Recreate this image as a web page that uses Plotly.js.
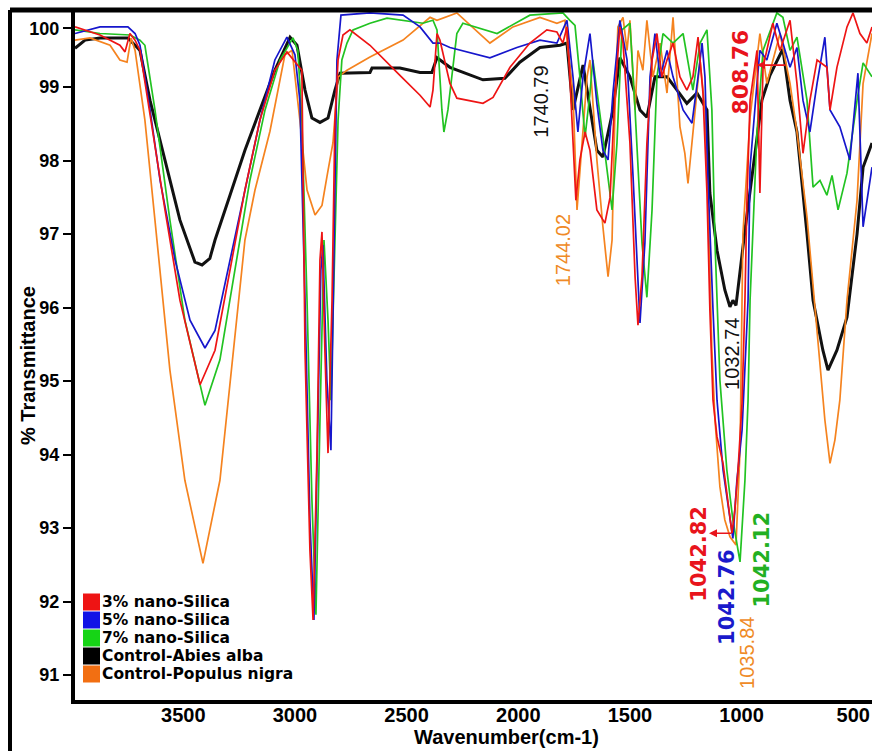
<!DOCTYPE html>
<html>
<head>
<meta charset="utf-8">
<script src="https://cdn.plot.ly/plotly-3.0.1.min.js"></script>
<style>
html,body{margin:0;padding:0;background:#fff;}
#chart{width:872px;height:751px;}
</style>
</head>
<body>
<div id="chart"></div>
<script>
// ---------------- DATA ----------------
const seriesNames = ["3% nano-Silica", "5% nano-Silica", "7% nano-Silica", "Control-Abies alba", "Control-Populus nigra"];

const abiesWn = [3985,3940,3873,3748,3716,3694,3649,3582,3515,3448,3416,3381,3358,3291,3224,3157,3090,3022,2991,2955,2924,2888,2852,2821,2798,2664,2655,2530,2440,2387,2364,2306,2216,2158,2060,1993,1903,1813,1782,1755,1710,1679,1648,1621,1576,1545,1500,1455,1424,1388,1334,1289,1245,1200,1155,1142,1110,1075,1052,1039,1025,985,940,909,873,815,783,752,707,680,636,613,573,528,483,456,416];
const abiesT  = [99.53,99.64,99.67,99.67,99.57,99.50,98.82,98.01,97.19,96.62,96.58,96.67,96.92,97.53,98.14,98.69,99.23,99.68,99.57,98.96,98.58,98.52,98.58,98.96,99.19,99.20,99.26,99.26,99.20,99.20,99.40,99.27,99.16,99.10,99.12,99.34,99.54,99.57,99.60,98.69,99.30,98.69,98.14,98.05,98.69,99.40,99.14,98.69,98.59,99.14,99.14,98.96,98.78,98.92,98.69,97.56,96.78,96.24,96.01,96.10,96.03,97.05,98.14,98.82,99.16,99.52,98.82,98.39,97.00,96.10,95.42,95.15,95.42,95.87,97.00,97.91,98.24];

const si5Wn = [3985,3918,3873,3748,3716,3694,3649,3604,3537,3470,3403,3358,3291,3224,3157,3090,3036,3000,2978,2955,2933,2915,2897,2884,2875,2857,2839,2825,2812,2794,2664,2516,2440,2382,2351,2306,2127,2006,1903,1827,1782,1755,1733,1710,1679,1648,1621,1598,1576,1545,1513,1486,1455,1433,1410,1388,1365,1334,1307,1262,1222,1195,1177,1164,1151,1128,1110,1083,1052,1039,1021,998,971,962,931,918,887,842,815,783,752,725,694,662,627,604,560,515,479,456,416];
const si5T  = [99.73,99.78,99.82,99.82,99.73,99.57,98.69,97.73,96.65,95.83,95.45,95.69,96.65,97.60,98.55,99.37,99.68,99.44,98.82,96.10,93.11,91.75,94.33,96.51,96.85,95.01,94.06,96.78,99.37,99.98,100.01,99.98,99.82,99.60,99.60,99.54,99.40,99.54,99.64,99.60,99.91,99.14,98.39,99.14,99.73,98.78,98.14,98.01,98.92,99.91,99.37,97.78,95.79,96.88,99.14,99.73,99.14,99.50,99.14,98.69,98.51,99.14,99.60,99.14,97.78,95.97,94.74,93.79,93.11,92.86,93.65,94.33,96.10,97.91,99.05,99.50,99.37,99.87,99.60,99.27,99.54,98.82,98.39,99.05,99.68,98.69,98.46,98.01,99.19,97.10,97.91];

const si3Wn = [3985,3873,3784,3761,3739,3716,3694,3649,3582,3515,3425,3358,3291,3224,3157,3090,3036,3000,2969,2955,2933,2919,2901,2888,2879,2866,2852,2834,2821,2807,2785,2754,2664,2530,2440,2395,2382,2364,2351,2306,2275,2158,2113,2037,1948,1872,1827,1800,1782,1769,1755,1742,1724,1701,1679,1648,1612,1589,1567,1545,1531,1500,1477,1464,1446,1424,1401,1379,1357,1334,1307,1276,1245,1218,1195,1173,1155,1142,1128,1110,1083,1061,1043,1030,1016,998,985,976,962,931,918,904,860,828,783,752,725,694,662,618,604,573,528,501,470,439,416];
const si3T  = [99.82,99.71,99.57,99.48,99.73,99.64,99.50,98.62,97.33,96.10,94.95,95.42,96.51,97.60,98.55,99.23,99.48,99.34,99.23,95.42,92.70,91.75,94.06,96.65,97.03,95.42,94.02,96.10,98.55,99.37,99.71,99.78,99.57,99.16,98.89,98.73,98.96,99.73,99.64,99.05,98.85,98.78,98.86,99.27,99.60,99.78,99.75,99.60,99.82,99.14,98.24,97.46,98.01,98.39,98.14,97.33,97.15,97.50,98.92,99.82,99.60,98.24,96.42,95.76,96.42,98.24,99.37,99.73,99.14,99.37,99.60,99.14,98.96,99.14,99.68,98.92,97.56,95.97,94.74,94.24,93.88,93.38,92.93,93.25,93.79,94.70,96.10,97.46,98.82,99.50,97.56,99.27,99.87,99.50,99.91,99.05,98.10,98.82,99.37,99.27,98.69,99.27,99.82,100.01,99.73,99.60,99.82];

const si7Wn = [3985,3873,3739,3694,3672,3627,3560,3493,3403,3336,3269,3202,3134,3067,3009,2987,2969,2946,2924,2906,2888,2870,2852,2839,2830,2816,2807,2790,2767,2740,2664,2588,2516,2427,2382,2364,2342,2333,2315,2275,2248,2095,1948,1800,1769,1746,1724,1701,1679,1666,1621,1580,1558,1536,1500,1477,1446,1424,1401,1379,1352,1307,1262,1218,1186,1155,1133,1119,1097,1066,1039,1007,985,971,962,931,904,842,815,783,752,707,680,649,618,595,568,528,483,456,416];
const si7T  = [99.78,99.73,99.71,99.64,99.57,98.69,97.19,95.83,94.67,95.29,96.51,97.73,98.69,99.37,99.67,99.50,98.55,96.10,93.38,91.82,94.47,96.92,95.83,94.74,95.83,97.46,98.55,99.37,99.60,99.78,99.87,99.94,99.91,99.87,99.91,99.78,98.69,98.39,98.69,99.73,99.87,99.73,99.98,100.01,99.91,99.84,99.14,98.32,98.92,99.37,98.32,97.33,98.24,99.78,99.87,98.69,96.88,96.14,97.33,99.14,99.73,99.60,99.73,98.96,99.60,99.78,98.69,96.88,95.01,93.79,93.11,92.54,93.65,94.74,96.10,98.39,99.50,100.01,99.95,99.50,99.68,98.82,97.64,97.73,97.53,97.80,97.33,97.83,98.82,99.33,99.14];

const populusWn = [3985,3918,3828,3784,3752,3734,3716,3672,3627,3560,3493,3412,3336,3269,3224,3179,3112,3045,3013,2978,2946,2910,2879,2857,2830,2807,2767,2664,2516,2395,2364,2275,2127,2024,1903,1827,1791,1769,1755,1737,1724,1692,1679,1648,1621,1598,1580,1567,1554,1531,1513,1500,1477,1464,1442,1424,1397,1365,1334,1307,1276,1254,1240,1222,1186,1164,1151,1133,1119,1097,1075,1052,1025,1007,994,962,918,887,828,783,752,707,680,649,627,604,582,560,528,483,456,416];
const populusT  = [99.64,99.67,99.57,99.37,99.34,99.67,99.50,98.55,97.19,95.15,93.65,92.52,93.65,95.56,96.92,97.60,98.40,99.44,99.50,98.55,97.60,97.26,97.39,97.78,98.24,99.14,99.23,99.41,99.64,99.95,99.91,100.01,99.60,99.82,99.95,99.87,99.91,99.27,98.92,97.33,97.87,99.14,99.37,98.01,97.10,96.42,96.92,98.69,99.82,99.95,99.50,99.91,98.69,99.50,99.23,99.91,99.14,99.60,98.92,99.95,98.46,98.10,97.69,98.28,99.37,98.69,97.56,95.42,94.47,93.56,93.11,92.88,92.77,94.06,97.00,98.59,99.73,99.05,99.73,99.05,98.39,97.23,96.33,95.19,94.47,93.88,94.20,94.74,96.10,97.46,99.05,99.73];

const xTickVals = [3500, 3000, 2500, 2000, 1500, 1000, 500];
const yTickVals = [91, 92, 93, 94, 95, 96, 97, 98, 99, 99.8];
const yTickText = ["91", "92", "93", "94", "95", "96", "97", "98", "99", "100"];

// peak labels: text and the wavenumber / %T where each label sits
const peakText = ["1740.79", "1744.02", "1032.74", "1035.84", "1042.82", "1042.76", "1042.12", "808.76"];
const peakWn   = [1899, 1800, 1043, 976, 1191, 1066, 909, 1007];
const peakT    = [98.80, 96.78, 95.37, 91.30, 92.65, 92.06, 92.57, 99.20];

// ---------------- STYLE ----------------
const C = {red:"#ee1414", blue:"#1616cc", green:"#22c322", black:"#111111", orange:"#f5831f"};
const LC = {red:"#e8141c", blue:"#1a1acb", green:"#22b022", black:"#111111", orange:"#ef8a26"};
const peakStyle = [
  {c:LC.black, fam:"Liberation Sans, Arial", w:400, s:20},
  {c:LC.orange, fam:"Liberation Sans, Arial", w:400, s:20},
  {c:LC.black, fam:"Liberation Sans, Arial", w:400, s:20},
  {c:LC.orange, fam:"Liberation Sans, Arial", w:400, s:20},
  {c:LC.red, fam:"DejaVu Sans", w:700, s:21},
  {c:LC.blue, fam:"DejaVu Sans", w:700, s:21},
  {c:LC.green, fam:"DejaVu Sans", w:700, s:21},
  {c:LC.red, fam:"DejaVu Sans", w:700, s:22}
];

const W = 872, H = 751, ML = 75, MR = 0, MT = 10, MB = 51;
const PW = W - ML - MR, PH = H - MT - MB;
const px2paperX = p => (p - ML) / PW;
const px2paperY = p => (H - MB - p) / PH;

const traces = [
  {x: abiesWn, y: abiesT, name: seriesNames[3], line:{color:C.black, width:3}},
  {x: populusWn, y: populusT, name: seriesNames[4], line:{color:C.orange, width:1.7}},
  {x: si7Wn, y: si7T, name: seriesNames[2], line:{color:C.green, width:1.7}},
  {x: si5Wn, y: si5T, name: seriesNames[1], line:{color:C.blue, width:1.7}},
  {x: si3Wn, y: si3T, name: seriesNames[0], line:{color:C.red, width:1.7}}
].map(t => Object.assign(t, {type:"scatter", mode:"lines", showlegend:false, hoverinfo:"x+y+name"}));

const annotations = [];
peakText.forEach((t, i) => {
  const st = peakStyle[i];
  annotations.push({x: peakWn[i], y: peakT[i], xref:"x", yref:"y", text: t, showarrow:false,
    textangle:-90, xanchor:"center", yanchor:"middle",
    font:{family: st.fam, size: st.s, color: st.c, weight: st.w}});
});
// small arrows beside two labels
annotations.push({x: 931, y: 99.30, xref:"x", yref:"y", text:"", showarrow:true, ax:30, ay:0,
  arrowhead:2, arrowsize:1, arrowwidth:1.6, arrowcolor:LC.red});
annotations.push({x: 1146, y: 92.93, xref:"x", yref:"y", text:"", showarrow:true, ax:24, ay:0,
  arrowhead:2, arrowsize:1, arrowwidth:1.6, arrowcolor:LC.red});

// axis titles
annotations.push({xref:"paper", yref:"paper", x: px2paperX(28), y: px2paperY(366), text:"% Transmittance",
  textangle:-90, showarrow:false, xanchor:"center", yanchor:"middle",
  font:{family:"Liberation Sans, Arial", size:20, color:"#000", weight:700}});
annotations.push({xref:"paper", yref:"paper", x: px2paperX(506), y: px2paperY(737), text:"Wavenumber(cm-1)",
  showarrow:false, xanchor:"center", yanchor:"middle", borderpad:0,
  font:{family:"Liberation Sans, Arial", size:20, color:"#000", weight:700}});

// legend built from the series names
const legendOrder = [0, 1, 2, 3, 4];
const legendColors = [C.red, "#1212e6", "#16d416", "#000000", "#f26f12"];
const shapes = [];
const rowTop = 593, rowH = 18;
legendOrder.forEach((si, k) => {
  const top = rowTop + k * rowH;
  shapes.push({type:"rect", xref:"paper", yref:"paper",
    x0: px2paperX(83), x1: px2paperX(100), y0: px2paperY(top + rowH - 0.5), y1: px2paperY(top + 0.5),
    fillcolor: legendColors[k], line:{width:0}});
  annotations.push({xref:"paper", yref:"paper", x: px2paperX(101), y: px2paperY(top + rowH / 2),
    text: seriesNames[si], showarrow:false, xanchor:"left", yanchor:"middle", borderpad:0,
    font:{family:"DejaVu Sans", size:15.5, color:"#000", weight:700}});
});

// outer frame (top edge & left edge of the figure box)
shapes.push({type:"line", xref:"paper", yref:"paper", x0: px2paperX(10), x1: 1.01, y0: 1, y1: 1,
  line:{color:"#000", width:5}});
shapes.push({type:"line", xref:"paper", yref:"paper", x0: px2paperX(10), x1: px2paperX(10), y0: 1, y1: px2paperY(760),
  line:{color:"#000", width:4}});

const layout = {
  width: W, height: H,
  margin: {l: ML, r: MR, t: MT, b: MB, pad: 0},
  paper_bgcolor: "#fff", plot_bgcolor: "#fff",
  showlegend: false,
  xaxis: {
    range: [3985, 416], autorange: false,
    tickvals: xTickVals, ticks: "", showgrid: false, zeroline: false,
    showline: true, linecolor: "#000", linewidth: 4, ticklabelstandoff: -6,
    tickfont: {family: "Liberation Sans, Arial", size: 20, color: "#000", weight: 700}
  },
  yaxis: {
    range: [90.66, 100.05], autorange: false,
    tickvals: yTickVals, ticktext: yTickText,
    ticks: "outside", ticklen: 8, tickwidth: 2, tickcolor: "#000",
    showgrid: false, zeroline: false,
    showline: true, linecolor: "#000", linewidth: 4,
    tickfont: {family: "Liberation Sans, Arial", size: 18, color: "#000", weight: 700}
  },
  annotations: annotations,
  shapes: shapes
};

Plotly.newPlot("chart", traces, layout, {displayModeBar: false, staticPlot: true});
</script>
</body>
</html>
